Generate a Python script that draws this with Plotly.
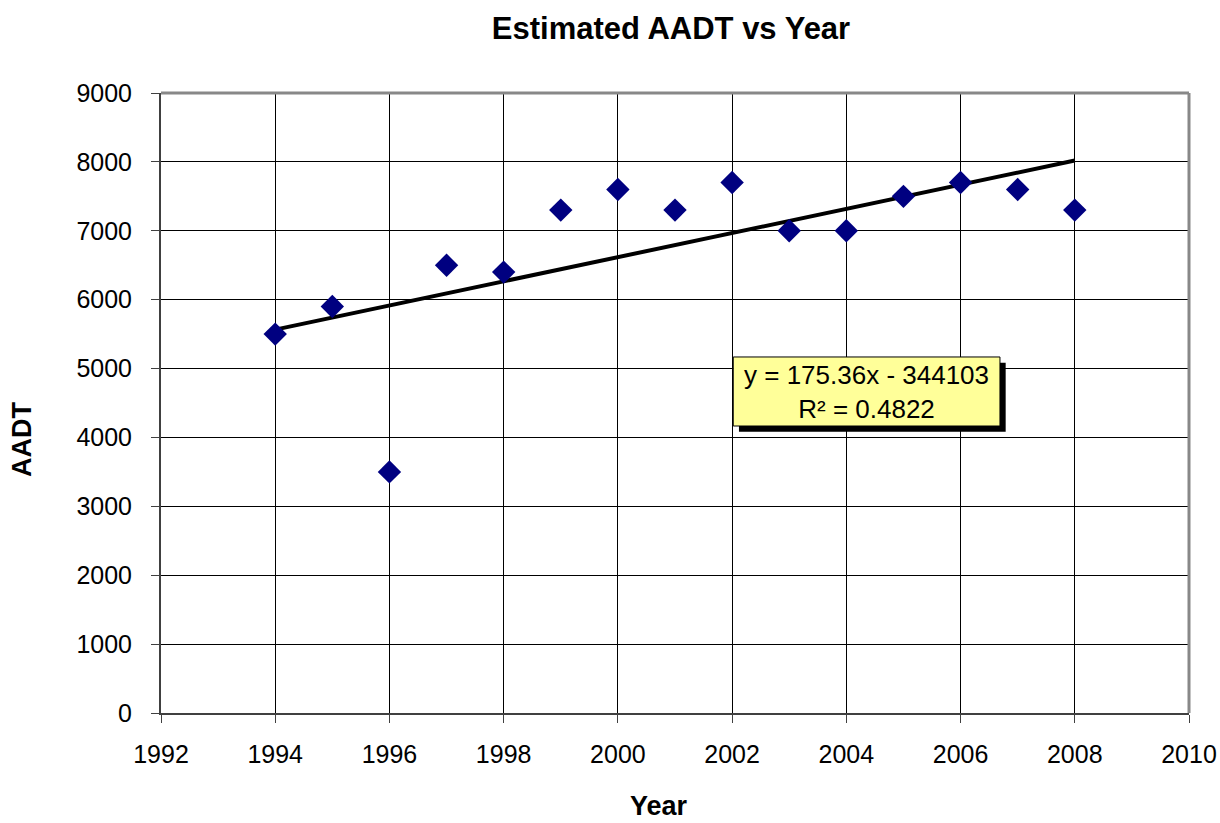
import plotly.graph_objects as go

years = [1994, 1995, 1996, 1997, 1998, 1999, 2000, 2001, 2002, 2003, 2004, 2005, 2006, 2007, 2008]
aadt = [5500, 5900, 3500, 6500, 6400, 7300, 7600, 7300, 7700, 7000, 7000, 7500, 7700, 7600, 7300]
slope = 175.36
intercept = -344103
eq_text = "y = 175.36x - 344103<br>R² = 0.4822"

trend_x = [years[0], years[-1]]
trend_y = [slope * x + intercept for x in trend_x]

fig = go.Figure()
fig.add_trace(go.Scatter(x=trend_x, y=trend_y, mode="lines",
                         line=dict(color="black", width=4), showlegend=False, hoverinfo="skip"))
fig.add_trace(go.Scatter(x=years, y=aadt, mode="markers",
                         marker=dict(symbol="diamond", size=18, color="#000080"),
                         showlegend=False))

font = "Liberation Sans, Arial, sans-serif"

fig.update_layout(
    width=1220, height=823,
    margin=dict(l=161, r=31, t=93, b=110, autoexpand=False),
    paper_bgcolor="white", plot_bgcolor="white",
    font=dict(family=font, size=25, color="black"),
    title=dict(text="<b>Estimated AADT vs Year</b>", x=0.55, xanchor="center",
               y=0.966, yanchor="middle", font=dict(size=31, family=font)),
    xaxis=dict(range=[1992, 2010], dtick=2, tick0=1992, showgrid=True, gridcolor="black",
               gridwidth=1, zeroline=False, showline=True, linecolor="#404040", linewidth=2,
               ticks="outside", ticklen=8, tickcolor="#404040", tickwidth=1,
               ticklabelstandoff=10, automargin=False,
               tickfont=dict(size=25)),
    yaxis=dict(range=[0, 9000], dtick=1000, showgrid=True, gridcolor="black",
               gridwidth=1, zeroline=False, showline=True, linecolor="#404040", linewidth=2,
               ticks="outside", ticklen=8, tickcolor="#404040", tickwidth=1,
               ticklabelstandoff=14, automargin=False,
               tickfont=dict(size=25)),
)

# axis titles
fig.add_annotation(text="<b>Year</b>", xref="paper", yref="paper", x=0.4844, y=-0.150,
                   xanchor="center", yanchor="middle", showarrow=False, borderpad=0,
                   font=dict(size=27, family=font, color="black"))
fig.add_annotation(text="<b>AADT</b>", xref="paper", yref="paper", x=-0.1352, y=0.4403,
                   xanchor="center", yanchor="middle", showarrow=False, textangle=-90,
                   font=dict(size=27, family=font, color="black"))

# gray top/right plot border
fig.add_shape(type="line", xref="paper", yref="paper", x0=0, x1=1, y0=1, y1=1,
              line=dict(color="#888888", width=3))
fig.add_shape(type="line", xref="paper", yref="paper", x0=1, x1=1, y0=0, y1=1,
              line=dict(color="#888888", width=3))

# equation box with shadow
bx0, bx1, by0, by1 = 2002.02, 2006.69, 4166, 5168
dx, dy = 0.1, -85
fig.add_shape(type="rect", x0=bx0 + dx, x1=bx1 + dx, y0=by0 + dy, y1=by1 + dy,
              fillcolor="black", line=dict(width=0))
fig.add_shape(type="rect", x0=bx0, x1=bx1, y0=by0, y1=by1,
              fillcolor="#FFFF99", line=dict(color="black", width=1))
fig.add_annotation(x=(bx0 + bx1) / 2, y=(by0 + by1) / 2, text=eq_text, showarrow=False,
                   font=dict(size=26, family=font, color="black"), align="center")

fig.write_html("out.html", config={"displayModeBar": False},
               post_script="document.body.style.margin='0';document.body.style.overflow='hidden';")
